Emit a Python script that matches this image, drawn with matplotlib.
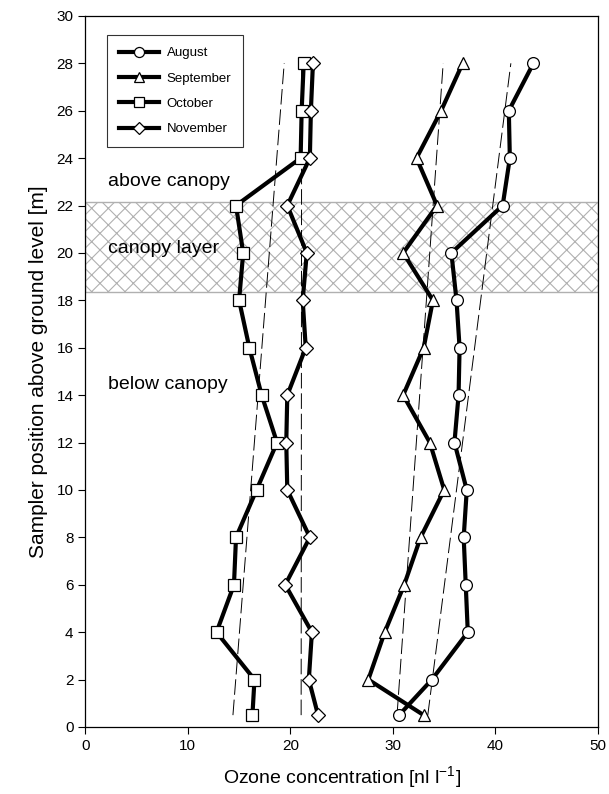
import numpy as np
import matplotlib
matplotlib.use("Agg")
import matplotlib.pyplot as plt

plt.rcParams['font.family'] = ['Liberation Sans', 'DejaVu Sans']
plt.rcParams['hatch.color'] = '#b0b0b0'
plt.rcParams['hatch.linewidth'] = 0.8

# sampler heights [m]
height = [0.5, 2, 4, 6, 8, 10, 12, 14, 16, 18, 20, 22, 24, 26, 28]

# ozone concentration [nl l-1]
august = [30.6, 33.8, 37.3, 37.1, 36.9, 37.2, 36.0, 36.4, 36.5, 36.2, 35.7, 40.7, 41.4, 41.3, 43.7]
september = [33.0, 27.6, 29.2, 31.1, 32.7, 35.0, 33.6, 31.0, 33.0, 33.9, 31.0, 34.3, 32.3, 34.7, 36.8]
october = [16.3, 16.5, 12.8, 14.5, 14.7, 16.7, 18.7, 17.2, 16.0, 15.0, 15.4, 14.7, 21.0, 21.1, 21.3]
november = [22.7, 21.8, 22.1, 19.5, 21.9, 19.7, 19.6, 19.7, 21.5, 21.2, 21.6, 19.7, 21.9, 22.0, 22.2]

# dashed trend lines (value at 0.5 m, value at 28 m)
trend_h = [0.5, 28]
trend_aug = [33.4, 41.5]
trend_sep = [30.4, 34.9]
trend_oct = [14.4, 19.4]
trend_nov = [21.05, 21.1]

canopy = [18.35, 22.15]

fig = plt.figure(figsize=(6.09, 7.94), dpi=100)
ax = fig.add_axes([0.14, 0.0844, 0.842, 0.8956])

# canopy layer band
ax.axhspan(canopy[0], canopy[1], facecolor='white', edgecolor='#b0b0b0', hatch='xx', linewidth=1.0, zorder=0)

dash = (0, (16, 5))
for tr in [trend_aug, trend_sep, trend_oct, trend_nov]:
    ax.plot(tr, trend_h, color='black', lw=0.7, linestyle=dash, zorder=1)

series = [(august, 'o', 'August'), (september, '^', 'September'),
          (october, 's', 'October'), (november, 'D', 'November')]
for vals, m, lab in series:
    ms = 8.5 if m != 'D' else 7.5
    ax.plot(vals, height, color='black', lw=3, marker=m, markersize=ms,
            markerfacecolor='white', markeredgecolor='black', markeredgewidth=0.9,
            label=lab, zorder=3)

ax.text(2.2, 23.0, 'above canopy', fontsize=14, va='center')
ax.text(2.2, 20.2, 'canopy layer', fontsize=14, va='center')
ax.text(2.2, 14.43, 'below canopy', fontsize=14, va='center')

ax.set_xlim(0, 50)
ax.set_ylim(0, 30)
ax.set_xticks(np.arange(0, 51, 10))
ax.set_yticks(np.arange(0, 31, 2))
ax.tick_params(direction='out', labelsize=11, length=5, width=0.8)
ax.set_xlabel('Ozone concentration [nl l$^{\\mathregular{-1}}$]', fontsize=14, labelpad=8)
ax.set_ylabel('Sampler position above ground level [m]', fontsize=15, labelpad=6)
for s in ax.spines.values():
    s.set_linewidth(0.9)

leg = ax.legend(loc='upper left', bbox_to_anchor=(0.043, 0.973), borderaxespad=0,
                fontsize=9.5, frameon=True, fancybox=False, edgecolor='black',
                handlelength=3.0, labelspacing=1.0, borderpad=0.9, handletextpad=0.6,
                markerscale=0.85)
leg.get_frame().set_linewidth(0.8)

fig.savefig('out.png', dpi=100)
